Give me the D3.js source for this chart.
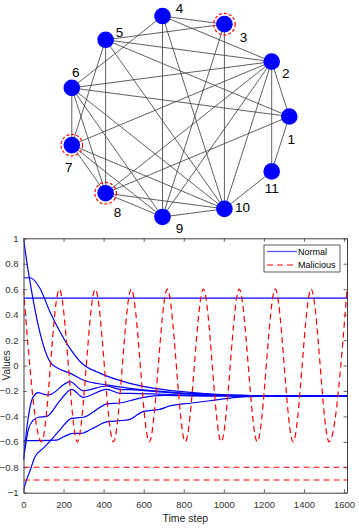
<!DOCTYPE html>
<html>
<head>
<meta charset="utf-8">
<script src="https://cdn.jsdelivr.net/npm/d3@7"></script>
<style>
  body { margin: 0; background: #fff; }
  svg { display: block; font-family: Arial, "Liberation Sans", sans-serif; }
</style>
</head>
<body>
<svg width="359" height="529"></svg>
<script>
(function (d3) {
  'use strict';

  // ---- network data ----
  const nodeIds = [1, 2, 3, 4, 5, 6, 7, 8, 9, 10, 11];
  const maliciousIds = [3, 7, 8];
  const edges = [
    [1, 2], [1, 5], [1, 6], [1, 8], [1, 11],
    [2, 4], [2, 5], [2, 6], [2, 7], [2, 8], [2, 9], [2, 10], [2, 11],
    [3, 4], [3, 5], [3, 9], [3, 10],
    [4, 6], [4, 9], [4, 10],
    [5, 7], [5, 8], [5, 10],
    [6, 7], [6, 8], [6, 9], [6, 10],
    [7, 8], [7, 9], [7, 10],
    [8, 9], [8, 10],
    [9, 10],
    [10, 11]
  ];

  // ---- time series data ----
  const xTicks = [0, 200, 400, 600, 800, 1000, 1200, 1400, 1600];
  const yTicks = [-1, -0.8, -0.6, -0.4, -0.2, 0, 0.2, 0.4, 0.6, 0.8, 1];
  const tEnd = 1615;

  const normalA = [[0, 1.0], [16, 0.82], [41, 0.58], [66, 0.37], [99, 0.16], [132, 0.03], [170, -0.02], [232, -0.06],
    [298, -0.114], [415, -0.153], [531, -0.18], [700, -0.205], [900, -0.225], [1100, -0.235], [1300, -0.24], [1615, -0.24]];
  const normalB = [[0, 0.69], [33, 0.69], [82, 0.607], [132, 0.423], [182, 0.266], [232, 0.135], [290, 0.02], [381, -0.06],
    [531, -0.14], [700, -0.19], [900, -0.22], [1100, -0.235], [1300, -0.24], [1615, -0.24]];
  const normalC = [[0, -0.74], [20, -0.45], [49, -0.245], [74, -0.214], [100, -0.225], [124, -0.232], [232, -0.127],
    [298, -0.198], [415, -0.161], [481, -0.187], [531, -0.19], [700, -0.21], [900, -0.23], [1100, -0.24], [1615, -0.24]];
  const normalD = [[0, -0.74], [25, -0.5], [49, -0.43], [74, -0.407], [116, -0.4], [180, -0.28], [240, -0.187],
    [298, -0.25], [415, -0.187], [481, -0.219], [531, -0.219], [700, -0.226], [900, -0.236], [1615, -0.24]];
  const normalE = [[0, -0.98], [15, -0.9], [32, -0.83], [57, -0.72], [99, -0.65], [132, -0.595], [185, -0.5],
    [240, -0.415], [298, -0.407], [423, -0.3], [481, -0.295], [531, -0.277], [600, -0.25], [700, -0.235], [900, -0.24], [1615, -0.24]];
  const normalF = [[0, -0.59], [165, -0.586], [200, -0.56], [248, -0.533], [290, -0.533], [350, -0.49], [423, -0.44],
    [481, -0.434], [531, -0.423], [600, -0.36], [680, -0.345], [730, -0.318], [830, -0.297], [930, -0.277],
    [1021, -0.258], [1113, -0.245], [1300, -0.24], [1615, -0.24]];
  const normalStuck = [[0, 0.53], [1615, 0.53]];

  const oscTimes = [0, 90, 179, 269, 358, 449, 538, 628, 718, 808, 898, 987, 1077, 1167, 1257, 1346, 1436, 1526, 1615];
  const oscValues = [0.6, -0.6, 0.6, -0.6, 0.6, -0.6, 0.6, -0.6, 0.6, -0.6, 0.6, -0.6, 0.6, -0.6, 0.6, -0.6, 0.6, -0.6, 0.6];
  const maliciousLevels = [-0.8, -0.9];

  const legendLabels = ['Normal', 'Malicious'];

  // ---- layout ----
  const svg = d3.select('svg');
  const blue = '#0000ff';
  const red = '#ff0000';
  const axisColor = '#404040';

  // network drawn on a circle, node k at angle (k-1)*2pi/11
  const netX = d3.scaleLinear().domain([-1, 1]).range([67.3, 289.3]);
  const netY = d3.scaleLinear().domain([-1, 1]).range([218, 15]);
  const angle = d3.scaleLinear().domain([1, 12]).range([0, 2 * Math.PI]);
  const pos = {};
  nodeIds.forEach(id => {
    pos[id] = { x: netX(Math.cos(angle(id))), y: netY(Math.sin(angle(id))) };
  });
  // label placement around each node (dx, dy)
  const labelShift = {
    1: [2, 23], 2: [14, 12], 3: [19, 13], 4: [17, -8], 5: [14, -8], 6: [4, -16],
    7: [-3, 22], 8: [12, 19], 9: [17, 11], 10: [18, -2], 11: [0, 17]
  };

  const net = svg.append('g');
  net.selectAll('line').data(edges)
    .enter().append('line')
      .attr('x1', d => pos[d[0]].x)
      .attr('y1', d => pos[d[0]].y)
      .attr('x2', d => pos[d[1]].x)
      .attr('y2', d => pos[d[1]].y)
      .attr('stroke', '#444')
      .attr('stroke-width', 0.85);

  net.selectAll('circle.node').data(nodeIds)
    .enter().append('circle')
      .attr('class', 'node')
      .attr('cx', d => pos[d].x)
      .attr('cy', d => pos[d].y)
      .attr('r', 8.3)
      .attr('fill', blue);

  net.selectAll('circle.ring').data(maliciousIds)
    .enter().append('circle')
      .attr('class', 'ring')
      .attr('cx', d => pos[d].x)
      .attr('cy', d => pos[d].y)
      .attr('r', 10.8)
      .attr('fill', 'none')
      .attr('stroke', red)
      .attr('stroke-width', 1.2)
      .attr('stroke-dasharray', '3,2');

  net.selectAll('text').data(nodeIds)
    .enter().append('text')
      .attr('x', d => pos[d].x + labelShift[d][0])
      .attr('y', d => pos[d].y + labelShift[d][1])
      .attr('text-anchor', 'middle')
      .attr('dy', '0.36em')
      .attr('font-size', 13.5)
      .attr('fill', '#000')
      .text(d => d);

  // ---- line chart ----
  const x = d3.scaleLinear().domain([0, tEnd]).range([23.5, 347]);
  const y = d3.scaleLinear().domain([-1, 1]).range([492.7, 238.3]);

  const chart = svg.append('g');

  svg.append('clipPath').attr('id', 'plotclip')
    .append('rect')
      .attr('x', x(0)).attr('y', y(1))
      .attr('width', x(tEnd) - x(0)).attr('height', y(-1) - y(1));

  const line = d3.line()
    .x(d => x(d[0]))
    .y(d => y(d[1]))
    .curve(d3.curveMonotoneX);

  const normalSeries = [normalStuck, normalA, normalB, normalC, normalD, normalE, normalF];
  const plot = chart.append('g').attr('clip-path', 'url(#plotclip)');

  plot.selectAll('path.normal').data(normalSeries)
    .enter().append('path')
      .attr('class', 'normal')
      .attr('d', line)
      .attr('fill', 'none')
      .attr('stroke', blue)
      .attr('stroke-width', 1.2);

  const oscSeries = oscTimes.map((t, i) => [t, oscValues[i]]);
  const maliciousSeries = [oscSeries].concat(maliciousLevels.map(v => [[0, v], [tEnd, v]]));

  plot.selectAll('path.malicious').data(maliciousSeries)
    .enter().append('path')
      .attr('class', 'malicious')
      .attr('d', line)
      .attr('fill', 'none')
      .attr('stroke', red)
      .attr('stroke-width', 1.2)
      .attr('stroke-dasharray', '6,4');

  // axes (ticks pointing inwards, box around the plot)
  const fmt = d3.format('~g');
  const xAxisG = chart.append('g')
    .attr('transform', `translate(0,${y(-1)})`)
    .call(d3.axisBottom(x).tickValues(xTicks).tickSizeInner(-3.5).tickSizeOuter(0).tickPadding(9).tickFormat(fmt));
  const xTopG = chart.append('g')
    .attr('transform', `translate(0,${y(1)})`)
    .call(d3.axisTop(x).tickValues(xTicks).tickSizeInner(-3.5).tickSizeOuter(0).tickFormat(''));
  const yAxisG = chart.append('g')
    .attr('transform', `translate(${x(0)},0)`)
    .call(d3.axisLeft(y).tickValues(yTicks).tickSizeInner(-3.5).tickSizeOuter(0).tickPadding(5).tickFormat(d => fmt(+d.toFixed(1))));
  const yRightG = chart.append('g')
    .attr('transform', `translate(${x(tEnd)},0)`)
    .call(d3.axisRight(y).tickValues(yTicks).tickSizeInner(-3.5).tickSizeOuter(0).tickFormat(''));

  [xAxisG, xTopG, yAxisG, yRightG].forEach(g => {
    g.select('.domain').attr('stroke', axisColor).attr('stroke-width', 1);
    g.selectAll('.tick line').attr('stroke', axisColor).attr('stroke-width', 0.8);
    g.selectAll('.tick text').attr('fill', '#333').attr('font-size', 9.5)
      .attr('font-family', 'Arial, "Liberation Sans", sans-serif');
  });

  chart.append('text')
    .attr('x', (x(0) + x(tEnd)) / 2)
    .attr('y', 522)
    .attr('text-anchor', 'middle')
    .attr('font-size', 10.5)
    .attr('fill', '#262626')
    .text('Time step');

  chart.append('text')
    .attr('transform', `translate(10,${(y(-1) + y(1)) / 2}) rotate(-90)`)
    .attr('text-anchor', 'middle')
    .attr('font-size', 10)
    .attr('fill', '#262626')
    .text('Values');

  // legend
  const legend = chart.append('g').attr('transform', 'translate(264,245)');
  legend.append('rect')
    .attr('width', 76).attr('height', 27)
    .attr('fill', '#fff')
    .attr('stroke', '#333')
    .attr('stroke-width', 0.8);
  const legendRow = legend.selectAll('g.row').data(legendLabels)
    .enter().append('g')
      .attr('class', 'row')
      .attr('transform', (d, i) => `translate(0,${6.5 + i * 13.5})`);
  legendRow.append('line')
    .attr('x1', 3).attr('x2', 33)
    .attr('stroke', (d, i) => i === 0 ? '#4d4dff' : red)
    .attr('stroke-width', 1.2)
    .attr('stroke-dasharray', (d, i) => i === 0 ? null : '6,4');
  legendRow.append('text')
    .attr('x', 34)
    .attr('dy', '0.35em')
    .attr('font-size', 9)
    .attr('fill', '#000')
    .text(d => d);

}(d3));
</script>
</body>
</html>
